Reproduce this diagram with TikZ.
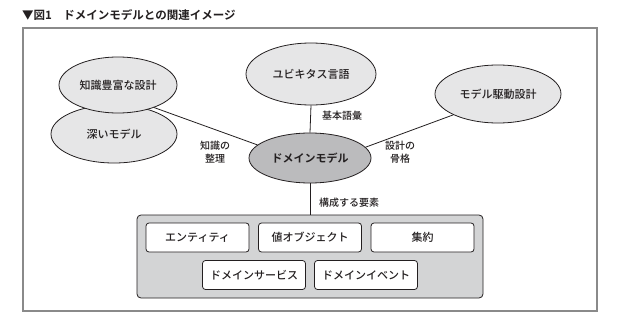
\documentclass[tikz,border=0pt]{standalone}
\usepackage{fontspec}
\setmainfont{Noto Sans CJK JP Medium}[BoldFont={Noto Sans CJK JP Bold}]
\usetikzlibrary{shapes.geometric}
\definecolor{ink}{HTML}{231F20}
\definecolor{ellfill}{HTML}{E6E6E7}
\definecolor{dmfill}{HTML}{BBBBBD}
\definecolor{grpfill}{HTML}{D3D4D5}
\definecolor{framec}{HTML}{8A8A8A}
\begin{document}
\begin{tikzpicture}[x=1pt,y=-1pt,
  every node/.style={text=ink},
  ell/.style={ellipse, draw=ink, line width=0.8pt, fill=ellfill, inner sep=0pt, font=\fontsize{11}{13}\selectfont},
  dmell/.style={ell, fill=dmfill, font=\fontsize{11}{13}\selectfont\bfseries},
  elem/.style={rectangle, rounded corners=3pt, draw=ink, line width=0.8pt, fill=white, minimum width=103pt, minimum height=29pt, inner sep=0pt, font=\fontsize{11}{13}\selectfont},
  grp/.style={rectangle, rounded corners=4pt, draw=ink, line width=0.8pt, fill=grpfill, minimum width=346pt, minimum height=83pt, inner sep=0pt},
  lbl/.style={inner sep=0pt, align=center, font=\fontsize{10}{13}\selectfont},
  link/.style={draw=ink, line width=0.8pt}
]
\useasboundingbox[fill=white] (0,0) rectangle (642,329);
% frame
\draw[framec, line width=1.3pt] (23,28) rectangle (597,311);
% title
\node[anchor=west, inner sep=0pt, font=\fontsize{11.5}{13}\selectfont\bfseries] (title) at (22,15) {▼図1　ドメインモデルとの関連イメージ};
% ellipses
\node[ell, minimum width=126pt, minimum height=58pt] (deep) at (114,134) {深いモデル};
\node[ell, minimum width=118pt, minimum height=56pt] (know) at (118,85) {知識豊富な設計};
\node[ell, minimum width=130pt, minimum height=62pt] (ubi) at (311,74) {ユビキタス言語};
\node[ell, minimum width=126pt, minimum height=58pt] (mdd) at (498,94) {モデル駆動設計};
\node[dmell, minimum width=122pt, minimum height=50pt] (dm) at (310,158) {ドメインモデル};
% group
\node[grp] (grp) at (310,256.5) {};
\node[elem] (ent) at (197.5,237.5) {エンティティ};
\node[elem] (vo) at (310,237.5) {値オブジェクト};
\node[elem] (agg) at (422.5,237.5) {集約};
\node[elem] (ds) at (254,275) {ドメインサービス};
\node[elem] (de) at (366,275) {ドメインイベント};
% connectors
\draw[link] (know.-32) -- (dm.166);
\draw[link] (mdd.205) -- (dm.11);
\draw[link] (ubi.south) -- (dm.north);
\draw[link] (dm.south) -- (grp.north);
% labels
\node[lbl] (l1) at (215,152.5) {知識の\\整理};
\node[lbl] (l2) at (400,152.5) {設計の\\骨格};
\node[lbl, anchor=west] (l3) at (322,116) {基本語彙};
\node[lbl, anchor=west] (l4) at (319,203) {構成する要素};
\end{tikzpicture}
\end{document}
